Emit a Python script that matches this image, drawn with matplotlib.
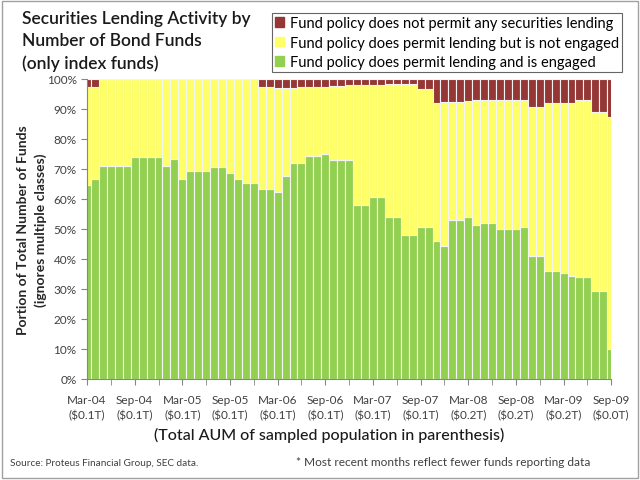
#!/usr/bin/env python3

import numpy as np
import matplotlib
matplotlib.use("Agg")
import matplotlib.pyplot as plt
from matplotlib.patches import Rectangle

plt.rcParams['font.family'] = ['Lato', 'DejaVu Sans']

# monthly, Mar-04 .. Sep-09 (67 months), percent of funds
engaged = [64.7, 66.6, 71.0, 71.0, 71.0, 71.0, 74.1, 74.1, 74.1, 74.1,
           71.0, 73.2, 66.6, 69.3, 69.3, 69.3, 70.7, 70.7, 68.6, 66.6,
           65.4, 65.4, 63.4, 63.4, 62.4, 67.7, 71.8, 71.8, 74.3, 74.3,
           74.9, 72.9, 72.9, 72.9, 58.0, 58.0, 60.8, 60.8, 54.1, 54.1,
           48.0, 48.0, 50.8, 50.8, 45.9, 44.4, 53.0, 53.0, 53.9, 51.4,
           51.9, 51.9, 50.0, 50.0, 50.0, 50.6, 41.1, 41.1, 36.1, 36.1,
           35.3, 34.2, 33.9, 33.9, 29.4, 29.4, 10.0]
not_permit = [2.8, 2.8, 0, 0, 0, 0, 0, 0, 0, 0,
              0, 0, 0, 0, 0, 0, 0, 0, 0, 0,
              0, 0, 2.8, 2.8, 3.1, 3.1, 3.1, 2.8, 2.8, 2.8,
              2.6, 2.4, 2.4, 2.2, 2.2, 2.2, 2.2, 2.2, 1.8, 1.6,
              1.6, 1.8, 3.3, 3.3, 8.0, 7.8, 7.8, 7.8, 7.4, 6.9,
              6.9, 6.9, 6.9, 6.9, 6.9, 6.9, 9.4, 9.4, 8.1, 8.1,
              8.1, 8.1, 6.9, 6.9, 11.2, 11.2, 12.8]
tick_months = ['Mar-04', 'Sep-04', 'Mar-05', 'Sep-05', 'Mar-06', 'Sep-06',
               'Mar-07', 'Sep-07', 'Mar-08', 'Sep-08', 'Mar-09', 'Sep-09']
tick_aum = ['$0.1T', '$0.1T', '$0.1T', '$0.1T', '$0.1T', '$0.1T',
            '$0.1T', '$0.1T', '$0.2T', '$0.2T', '$0.2T', '$0.0T']

green = '#92D050'
yellow = '#FFFF66'
red = '#953735'

engaged = np.array(engaged)
not_permit = np.array(not_permit)
not_engaged = 100 - engaged - not_permit
x = np.arange(len(engaged))

fig = plt.figure(figsize=(6.4, 4.81), dpi=100)
ax = fig.add_axes([0.136, 0.21, 0.819, 0.624])

ax.bar(x, engaged, width=1.0, color=green, edgecolor='#f4f4f4', linewidth=0.8)
ax.bar(x, not_engaged, width=1.0, bottom=engaged, color=yellow,
       edgecolor='#f4f4f4', linewidth=0.8)
ax.bar(x, not_permit, width=1.0, bottom=engaged + not_engaged, color=red,
       edgecolor='#f4f4f4', linewidth=0.8)

ax.set_xlim(0, len(x) - 1)
ax.set_ylim(0, 100)
ax.set_yticks(np.arange(0, 101, 10))
ax.set_yticklabels([f'{v}%' for v in range(0, 101, 10)], fontsize=8.5, color='#404040')
ax.set_xticks(x[::6])
ax.set_xticklabels([f'{m}\n({a})' for m, a in zip(tick_months, tick_aum)],
                   fontsize=8.5, color='#404040', linespacing=1.45)
ax.set_xticks(x[::3], minor=True)
ax.tick_params(axis='x', which='both', length=4, color='#868686', pad=7)
ax.tick_params(axis='y', length=4, color='#868686')
for s in ['top', 'right']:
    ax.spines[s].set_visible(False)
for s in ['left', 'bottom']:
    ax.spines[s].set_color('#868686')

ax.set_ylabel('Portion of Total Number of Funds\n(ignores multiple classes)',
              fontsize=10, fontweight='bold', color='#262626', labelpad=0,
              linespacing=1.5)

fig.text(0.034, 0.978, 'Securities Lending Activity by\nNumber of Bond Funds\n(only index funds)',
         fontsize=12.5, va='top', ha='left', color='#1a1a1a', linespacing=1.5,
         fontweight='semibold')

handles = [Rectangle((0, 0), 1, 1, color=red), Rectangle((0, 0), 1, 1, color=yellow),
           Rectangle((0, 0), 1, 1, color=green)]
labels = ['Fund policy does not permit any securities lending',
          'Fund policy does permit lending but is not engaged',
          'Fund policy does permit lending and is engaged']
leg = fig.legend(handles, labels, loc='upper left', bbox_to_anchor=(0.425, 0.971),
                 fontsize=10.5, frameon=True, fancybox=False, edgecolor='#404040',
                 handlelength=0.6, handleheight=0.6, handletextpad=0.4,
                 labelspacing=0.38, borderpad=0.22, borderaxespad=0)
leg.get_frame().set_linewidth(0.8)

fig.text(0.514, 0.085, '(Total AUM of sampled population in parenthesis)',
         fontsize=11.5, ha='center', color='#1a1a1a', fontweight='medium')
fig.text(0.016, 0.032, 'Source: Proteus Financial Group, SEC data.',
         fontsize=7.2, color='#404040')
fig.text(0.463, 0.032, '* Most recent months reflect fewer funds reporting data',
         fontsize=8.6, color='#404040')

fig.patches.append(Rectangle((0.003, 0.004), 0.994, 0.992, transform=fig.transFigure,
                             fill=False, edgecolor='#a0a0a0', linewidth=1))

fig.savefig('out.png', dpi=100)
